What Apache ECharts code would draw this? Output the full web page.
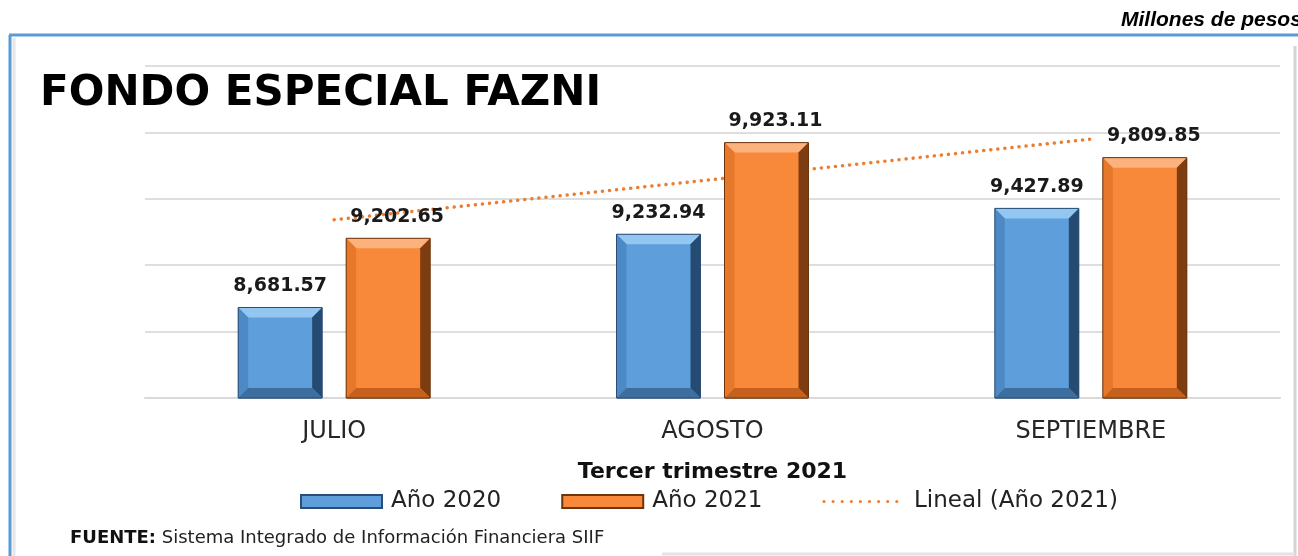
<!DOCTYPE html>
<html>
<head>
    <meta charset="utf-8">
    <title>Fondo Especial FAZNI</title>
    <script src="https://cdn.jsdelivr.net/npm/echarts@6/dist/echarts.min.js"></script>
</head>
<body style="margin:0;background:#fff;">
<div id="main" style="width:1298px;height:556px;"></div>
<script type="text/javascript">
    // datos del gráfico
    var meses = ['JULIO', 'AGOSTO', 'SEPTIEMBRE'];
    var anio2020 = [8681.57, 9232.94, 9427.89];
    var anio2021 = [9202.65, 9923.11, 9809.85];
    // línea de tendencia
    var lineal2021 = [9342, 9645, 9949];

    var myChart = echarts.init(document.getElementById('main'));

    var ANCHO = 84;   // ancho de barra
    var HUECO = 24;   // separación entre barras del mismo mes
    var BISEL = 10;

    function fmt(p) {
        return p.value.toLocaleString('en-US', {minimumFractionDigits: 2, maximumFractionDigits: 2});
    }

    var tonos = {
        azul: {base: '#5d9edb', top: '#93c6f1', left: '#4d89c4', right: '#264b73', bottom: '#3c6f9f', borde: '#2a4e76'},
        naranja: {base: '#f8883a', top: '#fcb27c', left: '#e6782c', right: '#7e3d10', bottom: '#c5611c', borde: '#6e340c'}
    };

    // bisel 3D dibujado encima de cada barra
    function bisel(x, yTop, yBase, t) {
        var w = ANCHO, b = Math.min(BISEL, (yBase - yTop) / 2);
        var x2 = x + w;
        return [
            {type: 'polygon', shape: {points: [[x, yTop], [x2, yTop], [x2 - b, yTop + b], [x + b, yTop + b]]}, style: {fill: t.top}},
            {type: 'polygon', shape: {points: [[x, yTop], [x + b, yTop + b], [x + b, yBase - b], [x, yBase]]}, style: {fill: t.left}},
            {type: 'polygon', shape: {points: [[x2, yTop], [x2, yBase], [x2 - b, yBase - b], [x2 - b, yTop + b]]}, style: {fill: t.right}},
            {type: 'polygon', shape: {points: [[x, yBase], [x + b, yBase - b], [x2 - b, yBase - b], [x2, yBase]]}, style: {fill: t.bottom}},
            {type: 'rect', shape: {x: x, y: yTop, width: w, height: yBase - yTop}, style: {fill: 'none', stroke: t.borde, lineWidth: 1}}
        ];
    }

    function renderBisel(params, api) {
        var i = api.value(0);
        var base = api.coord([i, 8000]);
        var cx = base[0];
        var p20 = api.coord([i, api.value(1)]);
        var p21 = api.coord([i, api.value(2)]);
        return {
            type: 'group',
            children: bisel(cx - HUECO / 2 - ANCHO, p20[1], base[1], tonos.azul)
                .concat(bisel(cx + HUECO / 2, p21[1], base[1], tonos.naranja))
        };
    }

    var etiqueta = {
        show: true,
        position: 'top',
        distance: 12,
        formatter: fmt,
        fontFamily: 'DejaVu Sans',
        fontWeight: 'bold',
        fontSize: 19,
        color: '#1a1a1a'
    };

    myChart.setOption({
        animation: false,
        grid: {left: 145, right: 18, top: 66, bottom: 158},
        xAxis: {
            type: 'category',
            data: meses,
            axisLine: {lineStyle: {color: '#d9d9d9', width: 2}},
            axisTick: {show: false},
            axisLabel: {margin: 22, fontFamily: 'DejaVu Sans', fontSize: 24, color: '#262626'},
            name: 'Tercer trimestre 2021',
            nameLocation: 'middle',
            nameGap: 63,
            nameTextStyle: {fontFamily: 'DejaVu Sans', fontWeight: 'bold', fontSize: 22, color: '#111'}
        },
        yAxis: {
            type: 'value',
            min: 8000,
            max: 10500,
            interval: 500,
            axisLabel: {show: false},
            axisLine: {show: false},
            axisTick: {show: false},
            splitLine: {lineStyle: {color: '#dedede', width: 2}}
        },
        legend: {
            left: 300,
            top: 490,
            padding: 0,
            itemWidth: 81,
            itemHeight: 13,
            itemGap: 60,
            textStyle: {fontFamily: 'DejaVu Sans', fontSize: 23, color: '#222', padding: [0, 0, 0, 4]},
            data: [
                {name: 'Año 2020', icon: 'rect'},
                {name: 'Año 2021', icon: 'rect'},
                {
                    name: 'Lineal (Año 2021)',
                    itemStyle: {color: 'rgba(0,0,0,0)', borderWidth: 0},
                    lineStyle: {width: 3, type: [0.1, 9], cap: 'round'}
                }
            ]
        },
        series: [
            {
                name: 'Año 2020',
                type: 'bar',
                z: 3,
                barWidth: ANCHO,
                barGap: (HUECO / ANCHO * 100) + '%',
                data: anio2020,
                itemStyle: {color: tonos.azul.base, borderColor: tonos.azul.borde, borderWidth: 1},
                label: etiqueta
            },
            {
                name: 'Año 2021',
                type: 'bar',
                z: 3,
                barWidth: ANCHO,
                data: anio2021,
                itemStyle: {color: tonos.naranja.base, borderColor: tonos.naranja.borde, borderWidth: 1},
                label: echarts.util.merge({offset: [9, 0]}, etiqueta)
            },
            {
                name: 'Lineal (Año 2021)',
                type: 'line',
                z: 1,
                symbol: 'none',
                data: lineal2021,
                itemStyle: {color: '#ed7d31'},
                lineStyle: {color: '#ed7d31', width: 3.5, type: [0.1, 7], cap: 'round'}
            },
            {
                type: 'custom',
                z: 4,
                silent: true,
                renderItem: renderBisel,
                encode: {x: 0, y: 1},
                data: meses.map(function (m, i) { return [i, anio2020[i], anio2021[i]]; })
            }
        ],
        graphic: [
            // marco
            {type: 'line', shape: {x1: 9, y1: 35, x2: 1298, y2: 35}, style: {stroke: '#5b9bd5', lineWidth: 3}},
            {type: 'line', shape: {x1: 10, y1: 35, x2: 10, y2: 556}, style: {stroke: '#5b9bd5', lineWidth: 3}},
            {type: 'line', shape: {x1: 14, y1: 38, x2: 14, y2: 556}, style: {stroke: '#e6e6e6', lineWidth: 3}},
            {type: 'line', shape: {x1: 1295, y1: 46, x2: 1295, y2: 556}, style: {stroke: '#d4d4d4', lineWidth: 3}},
            {type: 'line', shape: {x1: 662, y1: 554, x2: 1295, y2: 554}, style: {stroke: '#e3e3e3', lineWidth: 3}},
            {
                type: 'text', left: 1121, top: 10,
                style: {text: 'Millones de pesos', font: 'italic bold 21px "Liberation Sans"', fill: '#000'}
            },
            {
                type: 'text', x: 40, y: 94,
                style: {text: 'FONDO ESPECIAL FAZNI', font: 'bold 42px "DejaVu Sans"', fill: '#000', verticalAlign: 'middle'}
            },
            {
                type: 'text', x: 70, y: 538,
                style: {
                    text: '{b|FUENTE:} Sistema Integrado de Información Financiera SIIF',
                    verticalAlign: 'middle',
                    font: '18px "DejaVu Sans"',
                    fill: '#222',
                    rich: {b: {fontFamily: 'DejaVu Sans', fontWeight: 'bold', fontSize: 18, fill: '#111'}}
                }
            }
        ]
    });
</script>
</body>
</html>
